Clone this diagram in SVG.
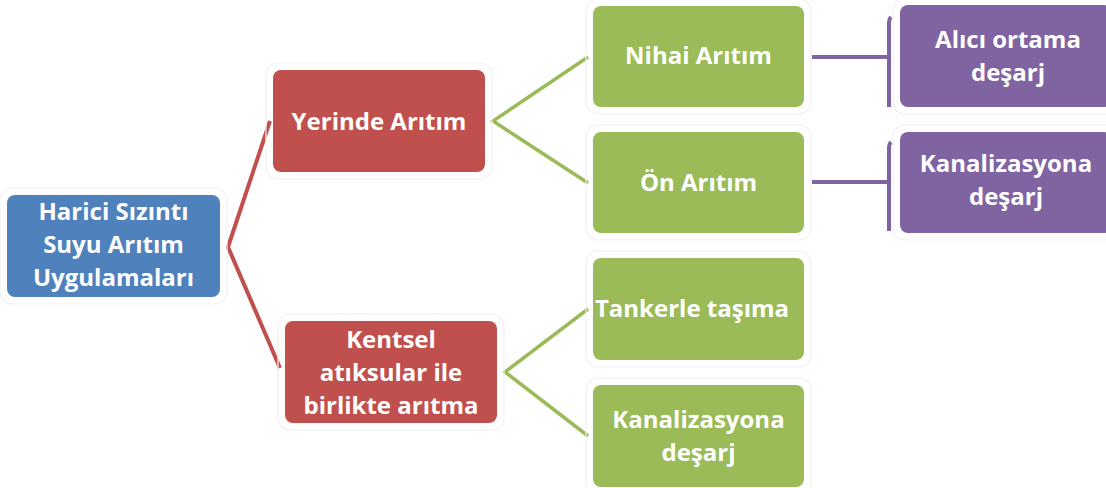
<svg xmlns="http://www.w3.org/2000/svg" width="1106" height="488" viewBox="0 0 1106 488">
  <style>
    .node rect.box { stroke: none; }
    .halo { fill: none; stroke: #f1f1f1; stroke-width: 1.2; }
    .blue { fill: #4F81BD; }
    .red { fill: #C0504D; }
    .green { fill: #9BBB59; }
    .purple { fill: #8064A2; }
    .label { font-family: "Open Sans", "Noto Sans", sans-serif; font-weight: bold; font-size: 24px; fill: #ffffff; text-anchor: middle; }
    .conn { fill: none; stroke-linejoin: miter; stroke-linecap: butt; }
    .c-red { stroke: #C0504D; stroke-width: 4; }
    .c-green { stroke: #9BBB59; stroke-width: 3.5; }
    .c-purple { stroke: #8064A2; stroke-width: 4; }
  </style>
  <rect width="1106" height="488" fill="#ffffff"/>

  <g id="connectors">
    <path class="conn c-red" d="M270,121 L228,247 L280,368"/>
    <path class="conn c-green" d="M588,57 L493,121 L588,183"/>
    <path class="conn c-green" d="M588,309 L505,372 L588,436"/>
    <path class="conn c-purple" d="M812,57 H889 M891,17 Q889,19 889,22 V107"/>
    <path class="conn c-purple" d="M812,182 H889 M891,142 Q889,144 889,147 V231"/>
  </g>

  <g id="node-root" class="node">
    <rect class="halo" x="0" y="188" width="227" height="116" rx="12"/>
    <rect class="box blue" x="7" y="195" width="213" height="102" rx="8"/>
    <text class="label" x="113.5" y="220">Harici Sızıntı</text>
    <text class="label" x="113.5" y="253">Suyu Arıtım</text>
    <text class="label" x="113.5" y="286">Uygulamaları</text>
  </g>

  <g id="node-yerinde" class="node">
    <rect class="halo" x="266" y="63" width="226" height="116" rx="12"/>
    <rect class="box red" x="273" y="70" width="212" height="102" rx="8"/>
    <text class="label" x="379" y="130">Yerinde Arıtım</text>
  </g>

  <g id="node-kentsel" class="node">
    <rect class="halo" x="278" y="314" width="226" height="116" rx="12"/>
    <rect class="box red" x="285" y="321" width="212" height="102" rx="8"/>
    <text class="label" x="391" y="348">Kentsel</text>
    <text class="label" x="391" y="381">atıksular ile</text>
    <text class="label" x="391" y="414">birlikte arıtma</text>
  </g>

  <g id="node-nihai" class="node">
    <rect class="halo" x="586" y="-1" width="225" height="115" rx="12"/>
    <rect class="box green" x="593" y="6" width="211" height="101" rx="8"/>
    <text class="label" x="698.5" y="64">Nihai Arıtım</text>
  </g>

  <g id="node-on" class="node">
    <rect class="halo" x="586" y="125" width="225" height="115" rx="12"/>
    <rect class="box green" x="593" y="132" width="211" height="101" rx="8"/>
    <text class="label" x="698.5" y="191">Ön Arıtım</text>
  </g>

  <g id="node-tanker" class="node">
    <rect class="halo" x="586" y="251" width="225" height="116" rx="12"/>
    <rect class="box green" x="593" y="258" width="211" height="102" rx="8"/>
    <text class="label" x="692" y="317">Tankerle taşıma</text>
  </g>

  <g id="node-kanal-green" class="node">
    <rect class="halo" x="586" y="378" width="225" height="116" rx="12"/>
    <rect class="box green" x="593" y="385" width="211" height="102" rx="8"/>
    <text class="label" x="698.5" y="428">Kanalizasyona</text>
    <text class="label" x="698.5" y="461">deşarj</text>
  </g>

  <g id="node-alici" class="node">
    <rect class="halo" x="893" y="-2" width="226" height="116" rx="12"/>
    <rect class="box purple" x="900" y="5" width="212" height="102" rx="8"/>
    <text class="label" x="1008" y="48">Alıcı ortama</text>
    <text class="label" x="1008" y="81">deşarj</text>
  </g>

  <g id="node-kanal-purple" class="node">
    <rect class="halo" x="893" y="125" width="226" height="115" rx="12"/>
    <rect class="box purple" x="900" y="132" width="212" height="101" rx="8"/>
    <text class="label" x="1006" y="172">Kanalizasyona</text>
    <text class="label" x="1006" y="205">deşarj</text>
  </g>
</svg>
